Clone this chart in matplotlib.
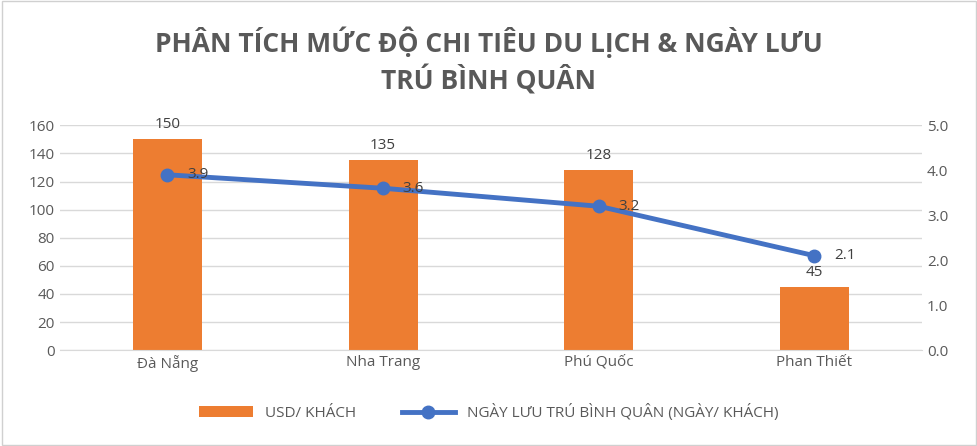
import matplotlib
matplotlib.use("Agg")
import matplotlib.pyplot as plt
from matplotlib.patches import Rectangle

categories = ["Đà Nẵng", "Nha Trang", "Phú Quốc", "Phan Thiết"]
usd = [150, 135, 128, 45]
days = [3.9, 3.6, 3.2, 2.1]

plt.rcParams['font.family'] = ['Open Sans', 'DejaVu Sans']
fig = plt.figure(figsize=(9.78, 4.46), dpi=100)
fig.patches.append(Rectangle((0.002, 0.002), 0.996, 0.996, transform=fig.transFigure,
                             fill=False, edgecolor='#d0d0d0', lw=1))
ax = fig.add_axes([0.061, 0.215, 0.882, 0.504])
x = range(len(categories))
ax.bar(x, usd, width=0.32, color='#ED7D31', label='USD/ KHÁCH', zorder=2)
for i, v in enumerate(usd):
    ax.text(i, v + 5, str(v), ha='center', va='bottom', fontsize=11, color='#404040')
ax.set_ylim(0, 160)
ax.set_yticks(range(0, 161, 20))
ax.set_xlim(-0.5, 3.5)
ax.set_xticks(list(x))
ax.set_xticklabels(categories)
ax.grid(axis='y', color='#d9d9d9', lw=1, zorder=0)
for s in ax.spines.values():
    s.set_visible(False)
ax.spines['bottom'].set_visible(True)
ax.spines['bottom'].set_color('#d9d9d9')
ax.tick_params(length=0, labelsize=11, colors='#595959')

ax2 = ax.twinx()
ax2.plot(list(x), days, color='#4472C4', lw=3.5, marker='o', ms=9, label='NGÀY LƯU TRÚ BÌNH QUÂN (NGÀY/ KHÁCH)', zorder=3)
for i, v in enumerate(days):
    ax2.text(i + 0.09, v, f"{v:.1f}", ha='left', va='center', fontsize=11, color='#404040')
ax2.set_ylim(0, 5)
ax2.set_yticks([0, 1, 2, 3, 4, 5])
ax2.set_yticklabels([f"{t:.1f}" for t in [0, 1, 2, 3, 4, 5]])
for s in ax2.spines.values():
    s.set_visible(False)
ax2.tick_params(length=0, labelsize=11, colors='#595959')

fig.text(0.5, 0.905, "PHÂN TÍCH MỨC ĐỘ CHI TIÊU DU LỊCH & NGÀY LƯU", ha='center', va='center',
         fontsize=19, fontweight='bold', color='#595959')
fig.text(0.5, 0.82, "TRÚ BÌNH QUÂN", ha='center', va='center',
         fontsize=19, fontweight='bold', color='#595959')

h1, l1 = ax.get_legend_handles_labels()
h2, l2 = ax2.get_legend_handles_labels()
fig.legend(h1 + h2, l1 + l2, loc='center', bbox_to_anchor=(0.5, 0.075), ncol=2, frameon=False,
           fontsize=11, labelcolor='#595959', columnspacing=3, handlelength=3.5)
fig.savefig("out.png", dpi=100)
